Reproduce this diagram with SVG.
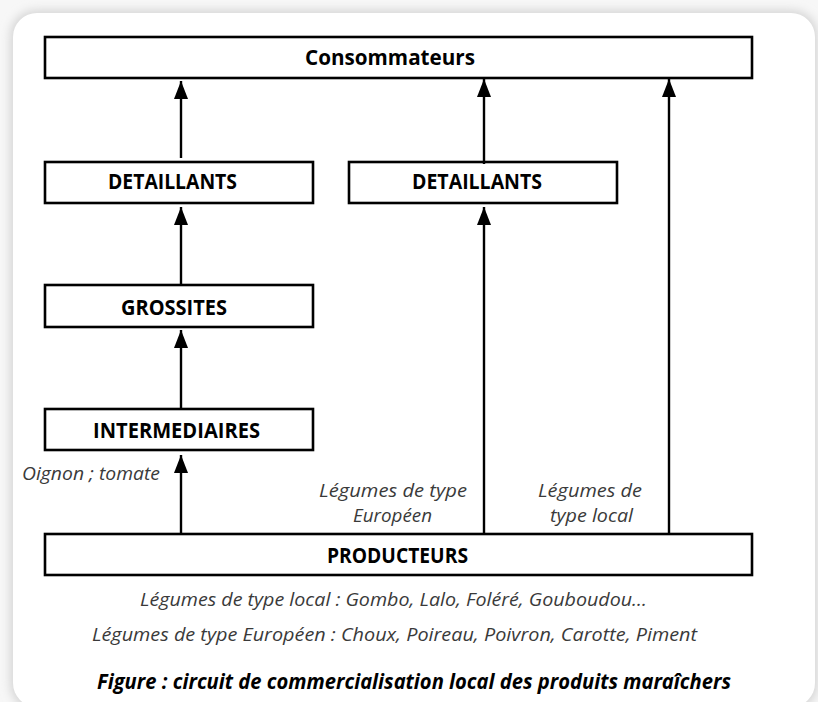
<svg xmlns="http://www.w3.org/2000/svg" width="818" height="702" viewBox="0 0 818 702">
  <defs>
    <filter id="soft" x="-5%" y="-5%" width="110%" height="110%">
      <feGaussianBlur stdDeviation="5"/>
    </filter>
    <marker id="arr" markerUnits="userSpaceOnUse" markerWidth="18" markerHeight="14" refX="18" refY="7" orient="auto" viewBox="0 0 18 14">
      <path d="M0,0 L18,7 L0,14 z" fill="#000"/>
    </marker>
    <style>
      .box { fill: #fff; stroke: #000; stroke-width: 2.6; }
      .lbl { font-family: "Open Sans", "Liberation Sans", sans-serif; font-weight: 700; font-size: 22px; fill: #000; }
      .it { font-family: "Open Sans", "Liberation Sans", sans-serif; font-style: italic; font-size: 19px; fill: #3a3a3a; }
      .cap { font-family: "Open Sans", "Liberation Sans", sans-serif; font-style: italic; font-weight: 700; font-size: 21px; fill: #000; }
      .conn line { stroke: #000; stroke-width: 2.4; fill: none; marker-end: url(#arr); }
    </style>
  </defs>

  <rect x="0" y="0" width="818" height="702" fill="#f7f7f7"/>
  <rect x="10" y="10" width="808" height="700" rx="26" fill="#d6d6d6" filter="url(#soft)"/>
  <rect x="13" y="13" width="802" height="694" rx="24" fill="#ffffff"/>

  <g id="consommateurs">
    <rect class="box" x="45" y="37" width="707" height="41"/>
    <text class="lbl" x="305" y="65" font-size="20" textLength="170" lengthAdjust="spacingAndGlyphs">Consommateurs</text>
  </g>
  <g id="detaillants-1">
    <rect class="box" x="45" y="162" width="268" height="41"/>
    <text class="lbl" x="108" y="189" textLength="129" lengthAdjust="spacingAndGlyphs">DETAILLANTS</text>
  </g>
  <g id="detaillants-2">
    <rect class="box" x="349" y="162" width="268" height="41"/>
    <text class="lbl" x="412" y="189" textLength="130" lengthAdjust="spacingAndGlyphs">DETAILLANTS</text>
  </g>
  <g id="grossites">
    <rect class="box" x="45" y="285" width="268" height="42"/>
    <text class="lbl" x="121" y="315" textLength="106" lengthAdjust="spacingAndGlyphs">GROSSITES</text>
  </g>
  <g id="intermediaires">
    <rect class="box" x="45" y="409" width="268" height="41"/>
    <text class="lbl" x="93" y="438" textLength="167" lengthAdjust="spacingAndGlyphs">INTERMEDIAIRES</text>
  </g>
  <g id="producteurs">
    <rect class="box" x="45" y="534" width="707" height="41"/>
    <text class="lbl" x="327" y="563" textLength="141" lengthAdjust="spacingAndGlyphs">PRODUCTEURS</text>
  </g>

  <g id="connectors" class="conn">
    <line x1="181" y1="533" x2="181" y2="455"/>
    <line x1="181" y1="408" x2="181" y2="330"/>
    <line x1="181" y1="284" x2="181" y2="207"/>
    <line x1="181" y1="158" x2="181" y2="81"/>
    <line x1="484" y1="533" x2="484" y2="207"/>
    <line x1="484" y1="164" x2="484" y2="79"/>
    <line x1="669" y1="533" x2="669" y2="79"/>
  </g>

  <g id="labels">
    <text class="it" x="22" y="480" textLength="138" lengthAdjust="spacingAndGlyphs">Oignon ; tomate</text>
    <text class="it" x="319" y="497" textLength="148" lengthAdjust="spacingAndGlyphs">Légumes de type</text>
    <text class="it" x="353" y="522" textLength="79" lengthAdjust="spacingAndGlyphs">Européen</text>
    <text class="it" x="538" y="497" textLength="104" lengthAdjust="spacingAndGlyphs">Légumes de</text>
    <text class="it" x="550" y="522" textLength="83" lengthAdjust="spacingAndGlyphs">type local</text>
    <text class="it" x="140" y="606" textLength="507" lengthAdjust="spacingAndGlyphs">Légumes de type local : Gombo, Lalo, Foléré, Gouboudou…</text>
    <text class="it" x="92" y="641" textLength="605" lengthAdjust="spacingAndGlyphs">Légumes de type Européen : Choux, Poireau, Poivron, Carotte, Piment</text>
    <text class="cap" x="97" y="689" textLength="634" lengthAdjust="spacingAndGlyphs">Figure : circuit de commercialisation local des produits maraîchers</text>
  </g>
</svg>
